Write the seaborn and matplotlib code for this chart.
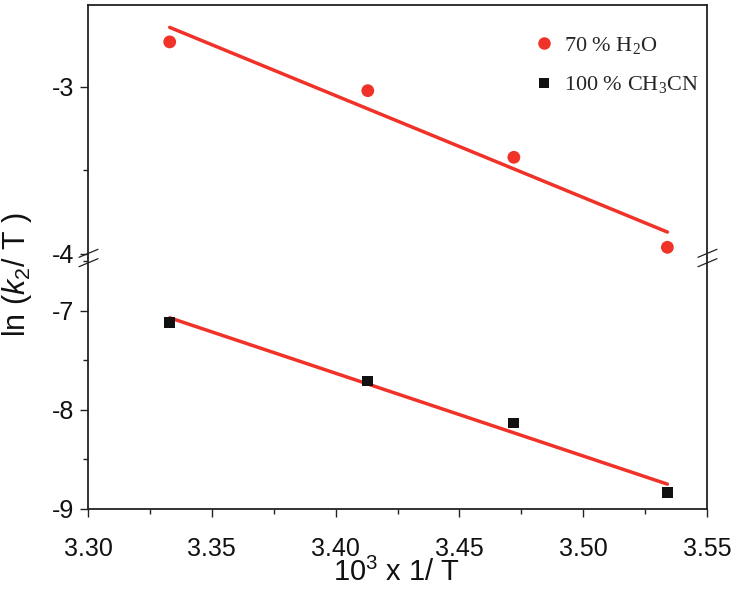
import numpy as np
import pandas as pd
import matplotlib
matplotlib.use("Agg")
import matplotlib.pyplot as plt
from matplotlib.lines import Line2D
from matplotlib.ticker import MultipleLocator
import seaborn as sns

# ---------------- data ----------------
inv_T = [3.333, 3.413, 3.472, 3.534]          # 10^3 x 1/T
ln_k2T_h2o = [-2.73, -3.022, -3.421, -3.96]   # 70 % H2O
ln_k2T_mecn = [-7.118, -7.707, -8.131, -8.83] # 100 % CH3CN
series_labels = [r"70 % H$_{2}$O", r"100 % CH$_{3}$CN"]
x_ticks = [3.30, 3.35, 3.40, 3.45, 3.50, 3.55]
y_ticks_top = [-3, -4]
y_ticks_bot = [-7, -8, -9]

df_h2o = pd.DataFrame({"x": inv_T, "y": ln_k2T_h2o})
df_mecn = pd.DataFrame({"x": inv_T, "y": ln_k2T_mecn})

# ---------------- style ----------------
sns.set_theme(style="ticks")
plt.rcParams["font.family"] = ["Liberation Sans", "DejaVu Sans"]
plt.rcParams["mathtext.fontset"] = "custom"
plt.rcParams["mathtext.rm"] = "Liberation Serif"
plt.rcParams["mathtext.sf"] = "Liberation Sans"
plt.rcParams["mathtext.it"] = "Liberation Sans:italic"

RED = "#f03228"
DARK = "#222222"

W, H = 735, 595
fig = plt.figure(figsize=(W / 100, H / 100), dpi=100)

def fx(px):
    return px / W

def fy(py):
    return 1 - py / H

left, right, top, brk, bottom = 88, 707, 5, 258, 509
ax_top = fig.add_axes([fx(left), fy(brk), fx(right) - fx(left), fy(top) - fy(brk)])
ax_bot = fig.add_axes([fx(left), fy(bottom), fx(right) - fx(left), fy(brk) - fy(bottom)], sharex=ax_top)

# regression lines + markers
sns.regplot(data=df_h2o, x="x", y="y", ax=ax_top, scatter=False, ci=None,
            color=RED, line_kws=dict(lw=2.5, zorder=2))
sns.scatterplot(data=df_h2o, x="x", y="y", ax=ax_top, marker="o", s=85,
                color=RED, edgecolor="none", zorder=3, legend=False)
sns.regplot(data=df_mecn, x="x", y="y", ax=ax_bot, scatter=False, ci=None,
            color=RED, line_kws=dict(lw=2.5, zorder=2))
sns.scatterplot(data=df_mecn, x="x", y="y", ax=ax_bot, marker="s", s=60,
                color="#111111", edgecolor="none", zorder=3, legend=False)

# limits
ax_bot.set_xlim(3.30, 3.55)
ax_top.set_ylim(-4.024, -2.509)
ax_bot.set_ylim(-9.0, -6.465)

for ax in (ax_top, ax_bot):
    ax.set_xlabel("")
    ax.set_ylabel("")
    for s in ax.spines.values():
        s.set_color(DARK)
        s.set_linewidth(1.3)
    ax.tick_params(axis="both", which="major", direction="out", length=6,
                   width=1.0, color=DARK, labelsize=18, labelcolor="#111111")
    ax.tick_params(axis="both", which="minor", direction="out", length=3.5,
                   width=1.0, color=DARK)
    ax.tick_params(axis="y", pad=4)
    ax.yaxis.set_minor_locator(MultipleLocator(0.5))

ax_top.spines["bottom"].set_visible(False)
ax_bot.spines["top"].set_visible(False)
ax_top.tick_params(axis="x", which="both", bottom=False, labelbottom=False)
ax_top.set_yticks(y_ticks_top)
ax_top.set_yticklabels([str(v) for v in y_ticks_top])
ax_bot.set_yticks(y_ticks_bot)
ax_bot.set_yticklabels([str(v) for v in y_ticks_bot])
ax_bot.set_xticks(x_ticks)
ax_bot.set_xticklabels([f"{v:.2f}" for v in x_ticks])
ax_bot.xaxis.set_minor_locator(MultipleLocator(0.025))
ax_bot.tick_params(axis="x", pad=14)

# axis break marks
for xc in (left, right):
    for yc in (253.3, 262.7):
        fig.add_artist(Line2D([fx(xc - 9), fx(xc + 10)], [fy(yc + 4), fy(yc - 4)],
                              color=DARK, lw=0.9, transform=fig.transFigure))

# axis labels
fig.text(fx(397), fy(572), r"10$^{\mathsf{3}}$ x 1/ T", ha="center", va="center",
         fontsize=21, color="#111111")
fig.text(fx(17), fy(275), r"ln ($k_{\mathsf{2}}$/ T )", ha="center", va="center",
         rotation=90, fontsize=22, color="#111111")

# legend
handles = [
    Line2D([], [], ls="none", marker="o", markersize=9, color=RED, markeredgewidth=0),
    Line2D([], [], ls="none", marker="s", markersize=7.5, color="#111111", markeredgewidth=0),
]
ax_top.legend(handles, series_labels, loc="upper left",
              bbox_to_anchor=(fx(534), fy(35)), bbox_transform=fig.transFigure,
              frameon=False, prop=dict(family="Liberation Serif", size=16),
              handlelength=0.9, handletextpad=0.45, borderpad=0, borderaxespad=0,
              labelspacing=0.8)

fig.savefig("out.png", dpi=100)
